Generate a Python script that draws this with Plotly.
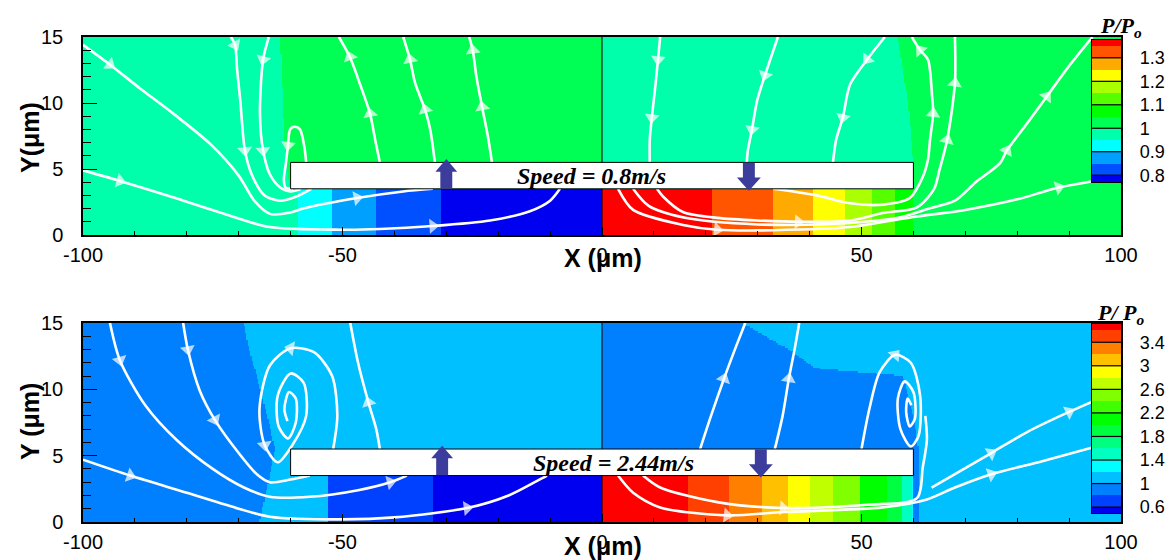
import numpy as np
import plotly.graph_objects as go

W, H = 1165, 560

# ---------------- colour bands ----------------
TOP_LEVELS = [0.75, 0.8, 0.85, 0.9, 0.95, 1.0, 1.05, 1.1, 1.15, 1.2, 1.25, 1.3, 1.35, 1.4]
TOP_COLORS = ['#0000f0', '#0050ff', '#00a0ff', '#00ffff', '#00ffaa', '#00ff55', '#00ff00',
              '#55ff00', '#aaff00', '#ffff00', '#ffaa00', '#ff5500', '#ff0000']
TOP_TICKS = [0.8, 0.9, 1.0, 1.1, 1.2, 1.3]
TOP_TICKTEXT = ['0.8', '0.9', '1', '1.1', '1.2', '1.3']
TOP_CB_RANGE = [0.771, 1.376]

BOT_LEVELS = [0.4, 0.6, 0.8, 1.0, 1.2, 1.4, 1.6, 1.8, 2.0, 2.2, 2.4, 2.6, 2.8, 3.0, 3.2, 3.4, 3.6, 3.8]
BOT_COLORS = ['#0000f0', '#0040ff', '#0080ff', '#00c0ff', '#00ffff', '#00ffc0', '#00ff80', '#00ff40',
              '#00ff00', '#40ff00', '#80ff00', '#c0ff00', '#ffff00', '#ffc000', '#ff8000', '#ff4000', '#ff0000']
BOT_TICKS = [0.6, 1.0, 1.4, 1.8, 2.2, 2.6, 3.0, 3.4]
BOT_TICKTEXT = ['0.6', '1', '1.4', '1.8', '2.2', '2.6', '3', '3.4']
BOT_CB_RANGE = [0.5, 3.71]

X_TICKS = [-100, -50, 0, 50, 100]
X_TICKTEXT = ['-100', '-50', '0', '50', '100']
Y_TICKS = [0, 5, 10, 15]

# ---------------- pressure field ----------------
TOP_UNDER_EDGES = [-60, -58.4, -52, -43.4, -31, 0, 21.2, 33, 40.7, 46.8, 52, 56.5, 60]
TOP_UNDER_P = [0.97, 0.92, 0.87, 0.82, 0.78, 1.37, 1.32, 1.27, 1.22, 1.17, 1.12, 1.07]
TOP_ZONE_Y = [0, 3.5, 5.5, 10, 15]
TOP_ZONE_L = [-60, -60, -61, -61.5, -62]
TOP_ZONE_R = [60, 60, 60, 59, 57]
TOP_ZONE_P = [0.97, 1.02, 0.97, 1.02]

BOT_UNDER_EDGES = [-60, -52.8, -32.6, 0, 16.6, 24.5, 30.8, 35.8, 40, 44.5, 49.7, 54.9, 57.8, 59.7, 60]
BOT_UNDER_P = [1.1, 0.7, 0.55, 3.65, 3.5, 3.3, 3.1, 2.9, 2.7, 2.5, 2.1, 1.9, 1.5, 1.3]
BOT_ZONE_Y = [0, 3.5, 5.5, 8, 11, 11.6, 13, 15]
BOT_ZONE_L = [-66, -64, -63, -64.5, -66.5, -67, -68, -69]
BOT_ZONE_R = [61, 61, 61, 60, 58, 41, 36, 27]
BOT_ZONE_P = [0.9, 1.1, 0.9, 1.1]

# ---------------- streamlines (x, y in um, in flow order; arrow point indices) ----------------
TOP_LINES = [
    dict(x=[-100, -92.9, -83, -73.6, -64, -50, -42.8, -32.6, -21.6, -13.9, -10, -8.1],
         y=[4.9, 4.1, 2.9, 1.7, 0.6, 0.4, 0.45, 0.68, 1.1, 1.8, 2.6, 3.5], arrows=[1, 7]),
    dict(x=[-100, -94.8, -89, -82.3, -75.5, -70, -67, -64, -60, -57.6, -47.2, -38.3, -32.6],
         y=[14.4, 12.9, 11.1, 9.1, 6.9, 4.5, 2.6, 1.6, 1.7, 2.0, 2.8, 3.3, 3.5], arrows=[1, 10]),
    dict(x=[-71.5, -70.7, -70.3, -69.7, -68.8, -67.4, -65, -62, -59, -56],
         y=[15, 14.4, 12.5, 10.2, 6.4, 4.5, 3.0, 2.6, 2.9, 3.5], arrows=[1, 4]),
    dict(x=[-64.2, -65.3, -65.9, -65.3, -64, -62, -60, -58],
         y=[15, 13.3, 9.2, 6.4, 4.6, 3.6, 3.3, 3.5], arrows=[1, 3]),
    dict(x=[-57, -57.4, -58.2, -59.2, -60.1, -60.5, -60.9, -61.3, -61.0, -59.5],
         y=[5.5, 6.8, 8.0, 8.2, 8.0, 6.8, 5.45, 4.2, 3.6, 3.5], arrows=[5]),
    dict(x=[-42.8, -43.7, -44.7, -46.6, -48.6, -50.7], y=[5.5, 7.2, 9.2, 11.4, 13.5, 15], arrows=[2, 4]),
    dict(x=[-32.2, -33.1, -34.1, -36, -37, -38.3], y=[5.5, 8.0, 9.5, 11.5, 13.3, 15], arrows=[2, 4]),
    dict(x=[-21.2, -22, -23.1, -24.2, -24.9, -25.6], y=[5.5, 7.5, 9.7, 12, 14, 15], arrows=[2, 4]),
    dict(x=[11.2, 10.8, 10.2, 9.6, 9.2, 9.2], y=[15, 13.3, 11, 8.9, 7.2, 5.5], arrows=[1, 3]),
    dict(x=[33.9, 31.4, 29.9, 28.9, 28.1, 27.9], y=[15, 12.1, 10.2, 8, 6.4, 5.5], arrows=[1, 3]),
    dict(x=[54.5, 51.1, 47.8, 46.4, 45.1, 44.5], y=[15, 13.3, 11.4, 8.9, 7.2, 5.5], arrows=[1, 3]),
    # out from under the plate on the right
    dict(x=[33, 41.4, 47.8, 54.1, 59.3, 61.8, 62.8, 63.2, 63.8, 63.6, 62.8, 61.3, 59.7],
         y=[3.5, 3.0, 2.4, 2.3, 2.8, 4.4, 5.7, 7.2, 9.2, 10.5, 13.3, 14, 15], arrows=[8, 11]),
    dict(x=[10.6, 11.8, 15.6, 22.2, 37.8, 47.8, 54.1, 60.7, 64, 65, 66.5, 68, 68],
         y=[3.5, 2.9, 1.74, 1.3, 1.0, 1.1, 1.67, 2.1, 3.5, 4.9, 7.2, 11.5, 15], arrows=[4, 10, 11]),
    dict(x=[6, 9, 16, 30, 45, 57, 63, 68, 72, 76.7, 78, 82, 85.7, 90, 94.5],
         y=[3.5, 2.2, 1.3, 0.8, 0.85, 1.3, 2.0, 2.6, 4.0, 5.45, 6.4, 8.5, 10.5, 12.8, 15], arrows=[10, 12]),
    dict(x=[3.1, 6, 15.6, 22.2, 41.4, 47.8, 60.7, 70, 80, 88, 100],
         y=[3.5, 1.9, 0.76, 0.4, 0.45, 0.6, 1.4, 1.9, 2.7, 3.6, 4.4], arrows=[3, 9]),
]

BOT_LINES = [
    dict(x=[-100, -90.9, -80, -70, -64, -50, -40, -26, -18, -12.5, -10.6],
         y=[4.7, 3.5, 2.2, 1.0, 0.4, 0.2, 0.35, 1.05, 2.0, 3.1, 3.5], arrows=[1, 7]),
    dict(x=[-94.8, -92.9, -88, -82, -75, -69, -64, -56.3, -47, -40.8, -37.6],
         y=[15, 12.2, 8.8, 6.2, 4.0, 2.6, 1.9, 1.9, 2.4, 3.0, 3.5], arrows=[1, 9]),
    dict(x=[-80.7, -79.8, -77.5, -74.6, -70, -66.5, -64, -60, -56.3],
         y=[15, 13, 9.9, 7.7, 5.2, 3.6, 3.0, 3.2, 3.5], arrows=[1, 3]),
    dict(x=[-51.8, -51, -52, -55.5, -60, -64, -66, -65, -62.5, -59.5, -57, -57.5, -60, -62.5, -62.3,
            -60.5, -59, -59, -60.3, -61.2, -60.6],
         y=[5.5, 8, 11, 12.8, 13.1, 11.8, 8.5, 5.8, 4.5, 5.9, 8, 10.5, 11.2, 9.5, 7.2, 6.3, 7.5, 9.3, 9.8,
            8.5, 7.6], arrows=[4, 7]),
    dict(x=[-42.8, -43.5, -45, -47, -48.5], y=[5.5, 7, 9, 12, 15], arrows=[2]),
    dict(x=[18.9, 21, 23.5, 25.8, 27.6], y=[5.5, 8, 10.8, 13.2, 15], arrows=[2]),
    dict(x=[33.3, 34.8, 36, 37.2, 38], y=[5.5, 8, 10.8, 13.2, 15], arrows=[2]),
    dict(x=[50, 51.5, 53.5, 56.5, 59.5, 61.3, 61, 59.5, 57.5, 57, 58.3, 60, 60.3, 59.3, 58.6, 58.9, 59.6],
         y=[5.5, 8.5, 11.3, 12.6, 12, 9.5, 6.5, 5.7, 7, 9.3, 10.6, 9.8, 7.8, 7.2, 8.3, 9.3, 8.8], arrows=[3]),
    # out from under the plate on the right
    dict(x=[7.9, 11.2, 22.2, 34.9, 51, 60.7, 61.8, 62.6, 62.3],
         y=[3.5, 2.6, 1.5, 1.05, 1.3, 1.8, 4.1, 6.2, 8.0], arrows=[3]),
    dict(x=[3.1, 6, 11.2, 24.1, 34.9, 54.1, 62.6, 68, 75, 85, 100],
         y=[3.5, 2.2, 1.1, 0.5, 0.75, 1.1, 1.7, 2.6, 3.6, 4.6, 6.2], arrows=[3, 8]),
    dict(x=[63.5, 68, 75, 82, 90, 100], y=[2.6, 3.6, 5.2, 6.8, 8.3, 10], arrows=[2, 4]),
]

PANELS = [
    dict(levels=TOP_LEVELS, colors=TOP_COLORS, ticks=TOP_TICKS, ticktext=TOP_TICKTEXT, cbrange=TOP_CB_RANGE,
         under_edges=TOP_UNDER_EDGES, under_p=TOP_UNDER_P, zy=TOP_ZONE_Y, zl=TOP_ZONE_L, zr=TOP_ZONE_R,
         zp=TOP_ZONE_P, lines=TOP_LINES, speed='Speed = 0.8m/s', speed_x=-2, ylabel='Y(μm)',
         up_x=-30, dn_x=28.3, cbtitle='<b><i>P/P<sub>o</sub></i></b>',
         ydom=[1 - 235 / H, 1 - 37 / H], cbdom=[1 - 182 / H, 1 - 40 / H], xt_y=258, cbt_y=43, yt_y=138),
    dict(levels=BOT_LEVELS, colors=BOT_COLORS, ticks=BOT_TICKS, ticktext=BOT_TICKTEXT, cbrange=BOT_CB_RANGE,
         under_edges=BOT_UNDER_EDGES, under_p=BOT_UNDER_P, zy=BOT_ZONE_Y, zl=BOT_ZONE_L, zr=BOT_ZONE_R,
         zp=BOT_ZONE_P, lines=BOT_LINES, speed='Speed = 2.44m/s', speed_x=2.3, ylabel='Y (μm)',
         up_x=-30.8, dn_x=30.6, cbtitle='<b><i>P/ P<sub>o</sub></i></b>',
         ydom=[1 - 522 / H, 1 - 323 / H], cbdom=[1 - 513 / H, 1 - 324 / H], xt_y=546, cbt_y=330, yt_y=422),
]

XDOM = [83 / W, 1121 / W]
CBXDOM = [1092 / W, 1121 / W]
FONT = 'Liberation Sans, Arial, sans-serif'
SERIF = 'Liberation Serif, Times New Roman, serif'


def step_scale(levels, colors):
    lo, hi = levels[0], levels[-1]
    cs = []
    for i, c in enumerate(colors):
        a = (levels[i] - lo) / (hi - lo)
        b = (levels[i + 1] - lo) / (hi - lo)
        cs.append([a, c])
        cs.append([b, c])
    return cs


fig = go.Figure()
shapes = []
annotations = []
layout_axes = {}

xe = np.arange(-100, 100.001, 0.25)
ye = np.arange(0, 15.001, 0.125)
xc = (xe[:-1] + xe[1:]) / 2
yc = (ye[:-1] + ye[1:]) / 2

for k, p in enumerate(PANELS):
    ax = 2 * k + 1
    cbax = 2 * k + 2
    xa = 'x' if ax == 1 else f'x{ax}'
    ya = 'y' if ax == 1 else f'y{ax}'
    cxa, cya = f'x{cbax}', f'y{cbax}'
    cs = step_scale(p['levels'], p['colors'])

    # field
    X, Y = np.meshgrid(xc, yc)
    L = np.interp(Y, p['zy'], p['zl'])
    R = np.interp(Y, p['zy'], p['zr'])
    zp = p['zp']
    Z = np.where(X < L, zp[0], np.where(X < 0, zp[1], np.where(X < R, zp[2], zp[3]))).astype(float)
    edges = np.array(p['under_edges'])
    vals = np.array(p['under_p'])
    under = (Y < 3.5) & (X > edges[0]) & (X < edges[-1])
    idx = np.clip(np.searchsorted(edges, X, side='right') - 1, 0, len(vals) - 1)
    Z = np.where(under, vals[idx], Z)
    fig.add_trace(go.Heatmap(x=xe, y=ye, z=Z, colorscale=cs, zmin=p['levels'][0], zmax=p['levels'][-1],
                             showscale=False, zsmooth=False, hoverinfo='skip', xaxis=xa, yaxis=ya))

    # streamlines
    for ln in p['lines']:
        n = len(ln['x'])
        sizes = [13 if i in ln['arrows'] else 0 for i in range(n)]
        fig.add_trace(go.Scatter(x=ln['x'], y=ln['y'], mode='lines+markers', xaxis=xa, yaxis=ya,
                                 line=dict(color='white', width=2.6, shape='spline', smoothing=0.8),
                                 marker=dict(symbol='triangle-up', size=sizes, color='white',
                                             angleref='previous', line=dict(width=0)),
                                 hoverinfo='skip', showlegend=False))

    # colour bar as its own small axis
    lv = p['levels']
    mids = [[(lv[i] + lv[i + 1]) / 2] for i in range(len(lv) - 1)]
    fig.add_trace(go.Heatmap(x=[0, 1], y=lv, z=mids, colorscale=cs, zmin=lv[0], zmax=lv[-1],
                             showscale=False, hoverinfo='skip', xaxis=cxa, yaxis=cya))
    for t in p['ticks']:
        shapes.append(dict(type='line', xref=f'{cxa} domain', yref=cya, x0=0, x1=1, y0=t, y1=t,
                           line=dict(color='black', width=1.2), layer='above'))

    # centre line, plate, arrows
    shapes.append(dict(type='line', xref=xa, yref=ya, x0=0, x1=0, y0=0, y1=15,
                       line=dict(color='black', width=1), layer='above'))
    shapes.append(dict(type='rect', xref=xa, yref=ya, x0=-60, x1=60, y0=3.5, y1=5.5,
                       fillcolor='white', line=dict(color='black', width=1), layer='above'))
    u = p['up_x']
    shapes.append(dict(type='path', xref=xa, yref=ya, layer='above', fillcolor='#3c3c9c', line=dict(width=0),
                       path=f'M {u-1.15},3.52 L {u+1.15},3.52 L {u+1.15},4.8 L {u+2.1},4.8 L {u},5.75 '
                            f'L {u-2.1},4.8 L {u-1.15},4.8 Z'))
    d = p['dn_x']
    shapes.append(dict(type='path', xref=xa, yref=ya, layer='above', fillcolor='#3c3c9c', line=dict(width=0),
                       path=f'M {d-1.15},5.48 L {d+1.15},5.48 L {d+1.15},4.35 L {d+2.3},4.35 L {d},3.35 '
                            f'L {d-2.3},4.35 L {d-1.15},4.35 Z'))
    annotations.append(dict(xref=xa, yref=ya, x=p['speed_x'], y=4.45, text=f'<b><i>{p["speed"]}</i></b>',
                            showarrow=False, xanchor='center', yanchor='middle',
                            font=dict(family=SERIF, size=24, color='black')))
    # titles
    annotations.append(dict(xref='paper', yref='paper', x=603 / W, y=1 - p['xt_y'] / H, xanchor='center',
                            yanchor='middle', text='<b>X (μm)</b>', showarrow=False,
                            font=dict(family=FONT, size=25, color='black')))
    annotations.append(dict(xref='paper', yref='paper', x=30 / W, y=1 - p['yt_y'] / H, xanchor='center',
                            yanchor='middle', text=f'<b>{p["ylabel"]}</b>', textangle=-90, showarrow=False,
                            font=dict(family=FONT, size=25, color='black')))
    annotations.append(dict(xref='paper', yref='paper', x=1121 / W, y=1 - p['cbt_y'] / H, xanchor='center',
                            yanchor='bottom', text=p['cbtitle'], showarrow=False,
                            font=dict(family=SERIF, size=22, color='black')))

    axis_common = dict(showline=True, linecolor='black', linewidth=1.5, mirror=True, showgrid=False,
                       zeroline=False, tickfont=dict(family=FONT, size=20, color='black'), ticks='inside')
    layout_axes['xaxis' if ax == 1 else f'xaxis{ax}'] = dict(
        axis_common, domain=XDOM, range=[-100, 100], anchor=ya, tickvals=X_TICKS, ticktext=X_TICKTEXT,
        ticklen=8, tickwidth=1, tickcolor='black', ticklabelstandoff=1,
        minor=dict(dtick=10, ticklen=4, tickcolor='black', ticks='inside'))
    layout_axes['yaxis' if ax == 1 else f'yaxis{ax}'] = dict(
        axis_common, domain=p['ydom'], range=[0, 15], anchor=xa, tickvals=Y_TICKS,
        ticklen=14, tickwidth=1, tickcolor='black', ticklabelstandoff=14,
        minor=dict(dtick=1, ticklen=8, tickcolor='black', ticks='inside'))
    layout_axes[f'xaxis{cbax}'] = dict(domain=CBXDOM, range=[0, 1], anchor=cya, showticklabels=False,
                                       showgrid=False, zeroline=False, showline=True, mirror=True,
                                       linecolor='black', linewidth=1.2, ticks='')
    layout_axes[f'yaxis{cbax}'] = dict(domain=p['cbdom'], range=p['cbrange'], anchor=cxa, side='right',
                                       tickvals=p['ticks'], ticktext=p['ticktext'], ticks='',
                                       showgrid=False, zeroline=False, showline=True, mirror=True,
                                       linecolor='black', linewidth=1.2, ticklabelstandoff=14,
                                       tickfont=dict(family=FONT, size=18, color='black'))

fig.update_layout(width=W, height=H, margin=dict(l=0, r=0, t=0, b=0, autoexpand=False),
                  paper_bgcolor='white', plot_bgcolor='white', showlegend=False, shapes=shapes,
                  annotations=annotations, **layout_axes)
fig.write_html('out.html')
